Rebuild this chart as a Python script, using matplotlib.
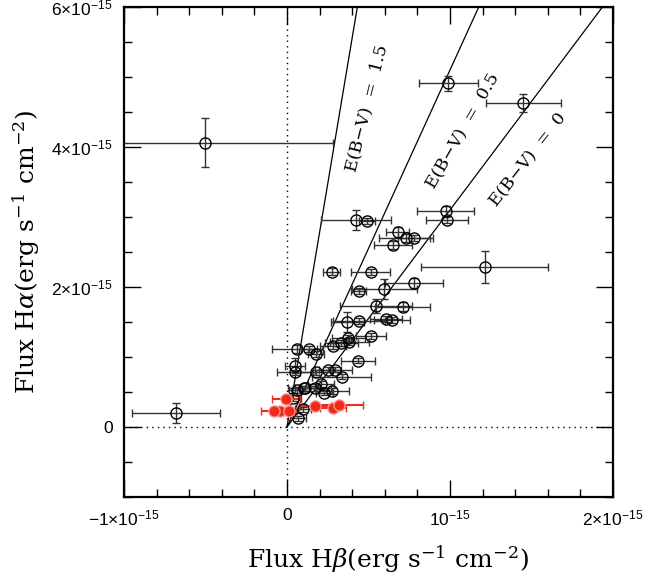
import matplotlib
matplotlib.use("Agg")
import matplotlib.pyplot as plt
from matplotlib.ticker import MultipleLocator

# sans tick labels (Helvetica-like), serif axis labels
plt.rcParams['mathtext.fontset'] = 'custom'
plt.rcParams['mathtext.rm'] = 'Liberation Sans'
plt.rcParams['mathtext.it'] = 'Liberation Sans:italic'

# all fluxes in units of 1e-15 erg s^-1 cm^-2
# black open circles: Hbeta, Halpha, err_Hbeta, err_Halpha
hb_black = [-0.50, -0.68, 0.99, 1.45, 0.974, 0.98, 1.213, 0.78, 0.597, 0.71,
            0.68, 0.73, 0.78, 0.648, 0.423, 0.489, 0.274, 0.515, 0.44, 0.544,
            0.37, 0.444, 0.607, 0.642, 0.376, 0.515, 0.382, 0.333, 0.284, 0.137,
            0.178, 0.434, 0.178, 0.25, 0.296, 0.336, 0.104, 0.172, 0.207, 0.278,
            0.063, 0.049, 0.049, 0.06, 0.11, 0.23, 0.039, 0.066, 0.10]
ha_black = [4.06, 0.20, 4.91, 4.63, 3.08, 2.96, 2.29, 2.06, 1.97, 1.72,
            2.78, 2.70, 2.70, 2.60, 2.96, 2.94, 2.22, 2.21, 1.94, 1.73,
            1.50, 1.51, 1.54, 1.53, 1.27, 1.30, 1.21, 1.20, 1.16, 1.11,
            1.04, 0.947, 0.78, 0.82, 0.82, 0.72, 0.55, 0.55, 0.61, 0.51,
            1.11, 0.876, 0.78, 0.53, 0.55, 0.49, 0.414, 0.124, 0.25]
hb_err_black = [0.78, 0.27, 0.18, 0.23, 0.174, 0.128, 0.39, 0.18, 0.20, 0.17,
                0.07, 0.167, 0.10, 0.117, 0.215, 0.05, 0.05, 0.12, 0.046, 0.22,
                0.10, 0.16, 0.10, 0.11, 0.10, 0.09, 0.12, 0.10, 0.08, 0.05,
                0.05, 0.105, 0.10, 0.08, 0.10, 0.18, 0.10, 0.10, 0.08, 0.10,
                0.155, 0.06, 0.11, 0.05, 0.06, 0.05, 0.05, 0.05, 0.05]
ha_err_black = [0.35, 0.14, 0.11, 0.13, 0.076, 0.05, 0.23, 0.07, 0.14, 0.07,
                0.07, 0.06, 0.04, 0.06, 0.14, 0.04, 0.05, 0.04, 0.04, 0.10,
                0.14, 0.04, 0.04, 0.04, 0.04, 0.04, 0.04, 0.04, 0.04, 0.04,
                0.04, 0.04, 0.04, 0.04, 0.04, 0.04, 0.04, 0.04, 0.04, 0.04,
                0.06, 0.11, 0.04, 0.04, 0.04, 0.04, 0.04, 0.04, 0.04]

# red filled points
hb_red = [-0.006, -0.043, -0.08, 0.01, 0.172, 0.284, 0.321]
ha_red = [0.40, 0.233, 0.233, 0.23, 0.296, 0.267, 0.314]
hb_err_red = [0.085, 0.05, 0.08, 0.05, 0.10, 0.08, 0.147]
ha_err_red = [0.04, 0.04, 0.04, 0.04, 0.04, 0.04, 0.04]

# Halpha/Hbeta ratios of the reddening lines
ebv_labels = ["0", "0.5", "1.5"]
ebv_ratios = [3.1, 5.1, 13.9]
label_pos = [(1.48, 3.81), (1.08, 4.23), (0.49, 4.55)]
label_rot = [52, 60, 76]

fig = plt.figure(figsize=(6.45, 5.81), dpi=100)
ax = fig.add_axes([0.1922, 0.1446, 0.7582, 0.8434])

ax.axvline(0, color="black", ls=(0, (1, 3)), lw=1)
ax.axhline(0, color="black", ls=(0, (1, 3)), lw=1)

for r in ebv_ratios:
    ax.plot([0, 6.0 / r], [0, 6.0], color="black", lw=0.9)

for lab, (tx, ty), rot in zip(ebv_labels, label_pos, label_rot):
    ax.text(tx, ty, "E(B\u2212V)  =  " + lab, rotation=rot, ha="center", va="center",
            fontsize=12.5, family="DejaVu Serif")

ax.errorbar(hb_black, ha_black, xerr=hb_err_black, yerr=ha_err_black, fmt="o",
            mfc="none", mec="black", ms=8, mew=1, ecolor="#333333", elinewidth=1,
            capsize=3, capthick=1)
ax.errorbar(hb_red, ha_red, xerr=hb_err_red, yerr=ha_err_red, fmt="o",
            mfc="#f02a1a", mec="#ff9090", ms=8, mew=1, ecolor="#e83020",
            elinewidth=1.5, capsize=3, capthick=1.5)

ax.set_xlim(-1, 2)
ax.set_ylim(-1, 6)
ax.xaxis.set_minor_locator(MultipleLocator(0.2))
ax.yaxis.set_minor_locator(MultipleLocator(0.5))
ax.set_xticks([-1, 0, 1, 2])
ax.set_xticklabels([r"$-1{\times}10^{-15}$", "0", r"$10^{-15}$", r"$2{\times}10^{-15}$"],
                   family="Liberation Sans")
ax.set_yticks([0, 2, 4, 6])
ax.set_yticklabels(["0", r"$2{\times}10^{-15}$", r"$4{\times}10^{-15}$", r"$6{\times}10^{-15}$"],
                   family="Liberation Sans")
ax.tick_params(which="both", direction="in", top=True, right=True, labelsize=12.5, pad=8)
ax.tick_params(which="major", length=12, width=1)
ax.tick_params(which="minor", length=6, width=1)
for s in ax.spines.values():
    s.set_linewidth(1.6)

ax.set_xlabel(r"Flux H$\beta$(erg s$^{-1}$ cm$^{-2}$)", family="DejaVu Serif",
              fontsize=18, math_fontfamily="dejavuserif")
ax.set_ylabel(r"Flux H$\alpha$(erg s$^{-1}$ cm$^{-2}$)", family="DejaVu Serif",
              fontsize=18, math_fontfamily="dejavuserif")
ax.xaxis.set_label_coords(0.54, -0.095)
ax.yaxis.set_label_coords(-0.168, 0.5)

fig.savefig("out.png", dpi=100)
